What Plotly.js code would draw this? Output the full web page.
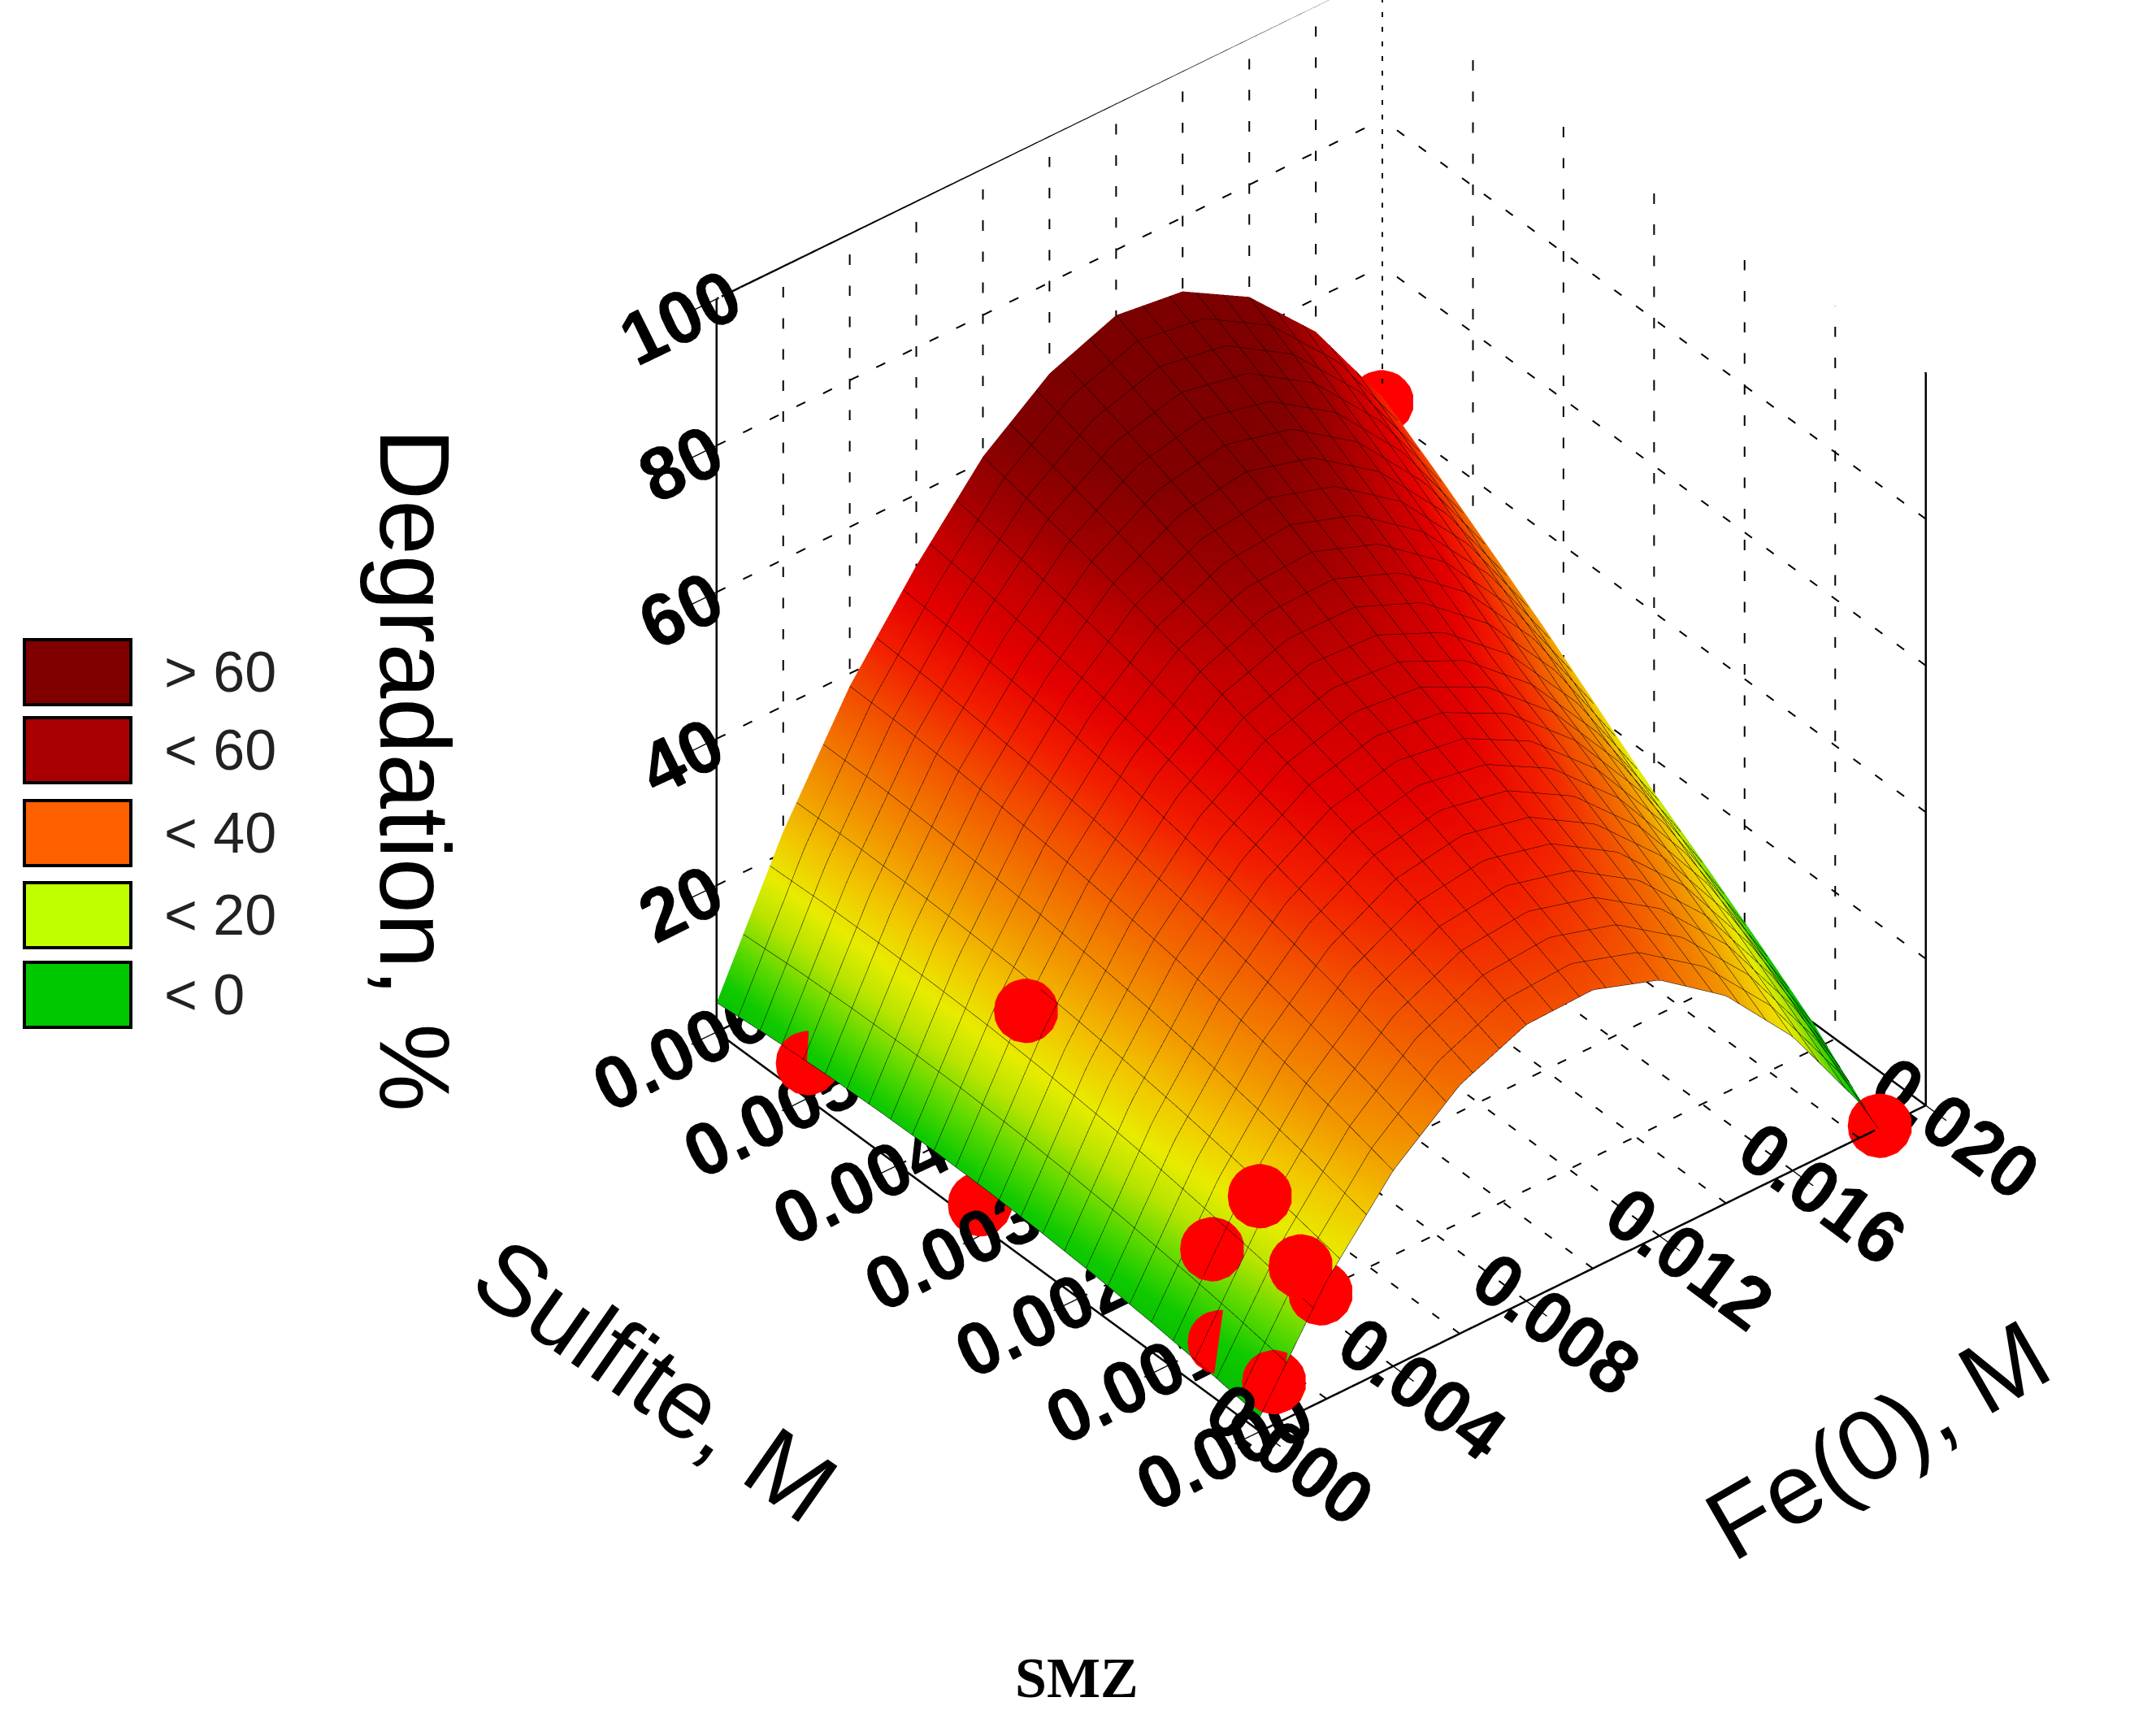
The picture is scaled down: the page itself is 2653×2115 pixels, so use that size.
<!DOCTYPE html>
<html><head><meta charset="utf-8">
<script src="https://cdn.plot.ly/plotly-3.0.1.min.js"></script>
<style>html,body{margin:0;padding:0;background:#fff}#chart{width:2653px;height:2115px}</style>
</head><body><div id="chart"></div>
<script>
// Grid of the fitted response surface (Fe(0), M  x  Sulfite, M  ->  Degradation, %)
const feValues = [0, 0.002, 0.004, 0.006, 0.008, 0.010, 0.012, 0.014, 0.016, 0.018, 0.020];
const sulfiteValues = [0, 0.0006, 0.0012, 0.0018, 0.0024, 0.0030, 0.0036, 0.0042, 0.0048, 0.0054, 0.0060];
// rows follow sulfiteValues, columns follow feValues
const degradation = [
  [2.0, 16.1, 26.7, 33.9, 37.7, 38.0, 34.9, 28.3, 18.3, 4.9, -12.0],
  [3.1, 17.7, 28.8, 36.5, 40.7, 41.5, 38.9, 32.8, 23.3, 10.3, -6.1],
  [4.0, 19.0, 30.6, 38.8, 43.5, 44.8, 42.6, 37.0, 28.0, 15.5, -0.4],
  [4.7, 20.2, 32.3, 40.9, 46.1, 47.9, 46.2, 41.1, 32.5, 20.5, 5.1],
  [5.2, 21.2, 33.8, 42.9, 48.6, 50.8, 49.6, 45.0, 36.9, 25.4, 10.4],
  [5.5, 22.0, 35.0, 44.6, 50.8, 53.5, 52.8, 48.6, 41.0, 30.0, 15.5],
  [5.6, 22.6, 36.1, 46.2, 53.2, 56.7, 56.9, 53.3, 46.2, 35.5, 21.2],
  [5.5, 22.9, 36.9, 47.5, 55.3, 59.7, 60.7, 57.7, 51.1, 40.8, 26.8],
  [5.2, 23.1, 37.6, 48.6, 57.3, 62.6, 64.3, 62.0, 55.8, 45.8, 32.1],
  [4.7, 23.1, 38.1, 49.6, 59.1, 65.2, 67.8, 66.1, 60.4, 50.8, 37.3],
  [4.0, 22.9, 38.3, 50.3, 60.7, 67.6, 71.1, 69.9, 64.7, 55.5, 42.2]
];

// Experimental points
const pointFe      = [0.0004, 0.0018, 0.0012, 0.0008,  0.0012,  0.0004, 0.0000, 0.0000, 0.00144, 0.0199,  0.0186];
const pointSulfite = [0.0000, 0.0000, 0.0000, 0.00083, 0.00045, 0.0006, 0.0031, 0.0050, 0.00312, 0.00598, 0.0000];
const pointDeg     = [6.0,    15.0,   20.0,   15.7,    25.5,    6.0,    3.0,    5.0,    26.0,    42.0,    0.5];

// Axes
const feRange = [0, 0.020];
const sulfiteRange = [0, 0.006];
const degRange = [0, 100];
const feTicks = [0, 0.004, 0.008, 0.012, 0.016, 0.020];
const feTickText = ['0.000', '0.004', '0.008', '0.012', '0.016', '0.020'];
const sulfiteTicks = [0, 0.001, 0.002, 0.003, 0.004, 0.005, 0.006];
const sulfiteTickText = ['0.000', '0.001', '0.002', '0.003', '0.004', '0.005', '0.006'];
const degTicks = [20, 40, 60, 80, 100];
const degTickText = ['20', '40', '60', '80', '100'];
const feGridLines = [0.002, 0.004, 0.006, 0.008, 0.010, 0.012, 0.014, 0.016, 0.018];
const sulfiteGridLines = [0.001, 0.002, 0.003, 0.004, 0.005];
const degGridLines = [20, 40, 60, 80];
const feMeshStep = 0.0008, sulfiteMeshStep = 0.00024;

// Axis titles
const feTitle = 'Fe(0), M', sulfiteTitle = 'Sulfite, M', degTitle = 'Degradation, %';

// Legend (colour classes)
const legendLabels = ['> 60', '< 60', '< 40', '< 20', '< 0'];
const legendColors = ['#800000', '#a80000', '#ff6000', '#c0ff00', '#00c800'];

// The three axes are drawn in equal scene units so that dashed grid lines
// get the same dash length on every wall; tick labels keep the real values.
const U = 3.2;
const fx = v => (v - feRange[0]) / (feRange[1] - feRange[0]) * U;
const fy = v => (v - sulfiteRange[0]) / (sulfiteRange[1] - sulfiteRange[0]) * U;
const fz = v => (v - degRange[0]) / (degRange[1] - degRange[0]) * U;

function Segs() { this.x = []; this.y = []; this.z = []; }
Segs.prototype.add = function (a, b) {
  this.x.push(fx(a[0]), fx(b[0]), null); this.y.push(fy(a[1]), fy(b[1]), null); this.z.push(fz(a[2]), fz(b[2]), null);
  return this;
};
const fe0 = feRange[0], fe1 = feRange[1], s0 = sulfiteRange[0], s1 = sulfiteRange[1], d0 = degRange[0], d1 = degRange[1];

const dashedGroups = [];
feGridLines.forEach(f => dashedGroups.push(new Segs().add([f, s0, d0], [f, s1, d0]).add([f, s1, d0], [f, s1, d1])));
sulfiteGridLines.forEach(s => dashedGroups.push(new Segs().add([fe0, s, d0], [fe1, s, d0]).add([fe1, s, d0], [fe1, s, d1])));
degGridLines.forEach(d => dashedGroups.push(new Segs().add([fe0, s1, d], [fe1, s1, d]).add([fe1, s0, d], [fe1, s1, d])));
dashedGroups.push(new Segs().add([fe1, s1, d0], [fe1, s1, d1]));

const solid = new Segs();
solid.add([fe0, s0, d0], [fe1, s0, d0]);
solid.add([fe0, s0, d0], [fe0, s1, d0]);
solid.add([fe0, s1, d0], [fe1, s1, d0]);
solid.add([fe1, s0, d0], [fe1, s1, d0]);
solid.add([fe0, s1, d0], [fe0, s1, d1]);
solid.add([fe1, s0, d0], [fe1, s0, d1]);
solid.add([fe0, s1, d1], [fe1, s1, d1]);
solid.add([fe1, s0, d1], [fe1, s1, d1]);

const colorscale = [
  [0.0000, '#00c000'], [0.0833, '#10d400'], [0.1389, '#60e400'], [0.1944, '#c0f000'],
  [0.2500, '#f4f800'], [0.3194, '#ffd000'], [0.3889, '#ffa000'], [0.4583, '#ff7800'],
  [0.5278, '#ff5000'], [0.5972, '#ff2000'], [0.6667, '#f00000'], [0.7361, '#d00000'],
  [0.8056, '#a80000'], [0.8750, '#880000'], [1.0000, '#800000']
];

const traces = [
  {
    type: 'surface', x: feValues.map(fx), y: sulfiteValues.map(fy),
    z: degradation.map(r => r.map(fz)), surfacecolor: degradation,
    colorscale: colorscale, cmin: 0, cmax: 72, showscale: false,
    lighting: { ambient: 0.95, diffuse: 0.2, specular: 0.0, roughness: 1, fresnel: 0 },
    lightposition: { x: -100000, y: -100000, z: 100000 },
    contours: {
      x: { show: true, start: fx(fe0), end: fx(fe1), size: fx(feMeshStep), color: '#000', width: 4, highlight: false },
      y: { show: true, start: fy(s0), end: fy(s1), size: fy(sulfiteMeshStep), color: '#000', width: 4, highlight: false },
      z: { show: false, highlight: false }
    },
    hoverinfo: 'skip'
  }
];
dashedGroups.forEach(g => traces.push({
  type: 'scatter3d', mode: 'lines', x: g.x, y: g.y, z: g.z,
  line: { color: '#000', width: 4, dash: 'dash' }, hoverinfo: 'skip', showlegend: false
}));
traces.push({
  type: 'scatter3d', mode: 'lines', x: solid.x, y: solid.y, z: solid.z,
  line: { color: '#000', width: 5 }, hoverinfo: 'skip', showlegend: false
});
traces.push({
  type: 'scatter3d', mode: 'markers', x: pointFe.map(fx), y: pointSulfite.map(fy), z: pointDeg.map(fz),
  marker: { color: '#ff0000', size: 46, opacity: 1, line: { width: 0 } },
  hoverinfo: 'skip', showlegend: false
});

const W = 2653, H = 2115;
const shapes = [], annotations = [];
const rowTops = [787, 883, 985, 1086, 1184];
const rowH = 80;
legendLabels.forEach((lab, i) => {
  const top = rowTops[i];
  shapes.push({
    type: 'rect', xref: 'paper', yref: 'paper',
    x0: 30 / W, x1: 161 / W, y0: 1 - (top + rowH) / H, y1: 1 - top / H,
    fillcolor: legendColors[i], line: { color: '#000', width: 4 }
  });
  annotations.push({
    xref: 'paper', yref: 'paper', x: 200 / W, y: 1 - (top + rowH / 2) / H,
    xanchor: 'left', yanchor: 'middle', showarrow: false, text: lab,
    font: { family: 'Liberation Sans, Arial, sans-serif', size: 70, color: '#222' }
  });
});
const titleFont2d = { family: 'Liberation Sans, Arial, sans-serif', size: 122, color: '#000' };
annotations.push({ xref: 'paper', yref: 'paper', x: 510 / W, y: 1 - 948 / H, xanchor: 'center', yanchor: 'middle',
  showarrow: false, text: degTitle, textangle: 90, font: titleFont2d });
annotations.push({ xref: 'paper', yref: 'paper', x: 806 / W, y: 1 - 1698 / H, xanchor: 'center', yanchor: 'middle',
  showarrow: false, text: sulfiteTitle, textangle: 35, font: titleFont2d });
annotations.push({ xref: 'paper', yref: 'paper', x: 2310 / W, y: 1 - 1772 / H, xanchor: 'center', yanchor: 'middle',
  showarrow: false, text: feTitle, textangle: -30, font: titleFont2d });
annotations.push({
  xref: 'paper', yref: 'paper', x: 0.4995, y: 1 - 2064 / H, xanchor: 'center', yanchor: 'middle',
  showarrow: false, text: '<b>SMZ</b>',
  font: { family: 'Liberation Serif, Times New Roman, serif', size: 70, color: '#000' }
});

const dir = [-0.506, -0.62, 0.6];
const ctr = { x: -0.2887, y: 0.0938, z: -0.1464 };
const dist = 2.3;

const axisCommon = {
  showgrid: false, zeroline: false, showbackground: false, showline: false,
  showspikes: false, ticks: 'outside', ticklen: 12, tickwidth: 3, tickcolor: '#000',
  color: '#000'
};
const tickFont = { family: 'Liberation Sans, Arial, sans-serif', size: 33, color: '#000', weight: 'bold' };

const layout = {
  width: W, height: H, margin: { l: 0, r: 0, t: 0, b: 0 },
  paper_bgcolor: '#fff', showlegend: false,
  shapes: shapes, annotations: annotations,
  scene: {
    domain: { x: [0, 1], y: [0, 1] },
    aspectmode: 'manual', aspectratio: { x: 1, y: 1, z: 1.066 },
    camera: {
      projection: { type: 'orthographic' },
      center: ctr,
      eye: { x: ctr.x + dist * dir[0], y: ctr.y + dist * dir[1], z: ctr.z + dist * dir[2] },
      up: { x: 0, y: 0, z: 1 }
    },
    xaxis: Object.assign({}, axisCommon, {
      range: [fx(fe0), fx(fe1)], tickvals: feTicks.map(fx), ticktext: feTickText, tickfont: tickFont,
      ticklen: 40, title: { text: '' }
    }),
    yaxis: Object.assign({}, axisCommon, {
      range: [fy(s0), fy(s1)], tickvals: sulfiteTicks.map(fy), ticktext: sulfiteTickText, tickfont: tickFont,
      ticklen: 40, title: { text: '' }
    }),
    zaxis: Object.assign({}, axisCommon, {
      range: [fz(d0), fz(d1)], tickvals: degTicks.map(fz), ticktext: degTickText, tickfont: tickFont,
      title: { text: '' }
    })
  }
};

Plotly.newPlot('chart', traces, layout, { displayModeBar: false });
</script></body></html>
